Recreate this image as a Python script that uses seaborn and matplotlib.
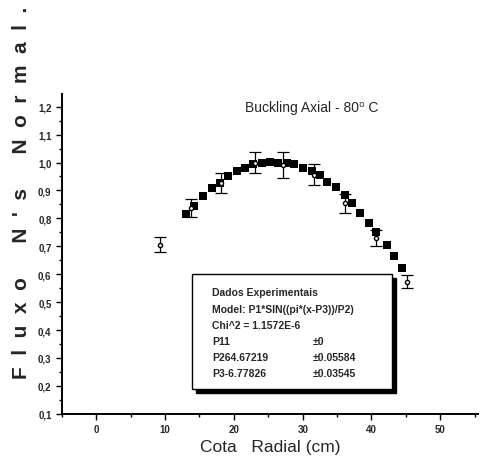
import matplotlib
matplotlib.use("Agg")
import matplotlib.pyplot as plt
import matplotlib.patches as mpatches
import seaborn as sns
import pandas as pd
import numpy as np

# fitted curve
fit_x = [13.0, 14.2, 15.5, 16.8, 18.0, 19.1, 20.4, 21.6, 22.8, 24.1, 25.2, 26.4, 27.7, 28.8,
         30.0, 31.3, 32.5, 33.6, 34.9, 36.1, 37.2, 38.4, 39.6, 40.6, 42.2, 43.3, 44.5]
fit_y = [0.814, 0.846, 0.879, 0.907, 0.925, 0.950, 0.968, 0.979, 0.993, 1.000, 1.003, 1.000, 1.000, 0.993,
         0.982, 0.968, 0.954, 0.932, 0.911, 0.882, 0.854, 0.818, 0.782, 0.750, 0.704, 0.664, 0.621]

# experimental points with error bars
exp_x = [9.3, 13.8, 18.1, 23.0, 27.2, 31.6, 36.1, 40.6, 45.2]
exp_y = [0.705, 0.837, 0.928, 1.000, 0.990, 0.957, 0.855, 0.730, 0.573]
exp_err = [0.027, 0.033, 0.036, 0.039, 0.046, 0.039, 0.034, 0.030, 0.023]

legend_lines = ["Dados Experimentais", "Model: P1*SIN((pi*(x-P3))/P2)", "Chi^2 = 1.1572E-6",
                "P1", "P2", "P3"]
param_vals = ["1", "64.67219", "-6.77826"]
param_errs = ["\u00b10", "\u00b10.05584", "\u00b10.03545"]

sns.set_style("ticks")
plt.rcParams['font.family'] = ['Liberation Sans', 'DejaVu Sans']

fig = plt.figure(figsize=(4.8, 4.64), dpi=100)
ax = fig.add_axes([0.129, 0.106, 0.867, 0.689])

df = pd.DataFrame({"x": fit_x, "y": fit_y})
sns.scatterplot(data=df, x="x", y="y", marker="s", color="black", s=34, edgecolor="black",
                linewidth=0, ax=ax, zorder=3)
ax.errorbar(exp_x, exp_y, yerr=exp_err, fmt="o", mfc="white", mec="black", ms=3,
            ecolor="black", elinewidth=0.9, capsize=4, capthick=0.9, zorder=4)

ax.set_xlim(-5, 55.5)
ax.set_ylim(0.1, 1.245)
ax.set_xticks(range(0, 60, 10))
ax.set_xticks(range(-5, 56, 5), minor=True)
yt = np.round(np.arange(0.1, 1.21, 0.1), 1)
ax.set_yticks(yt)
ax.set_yticklabels([f"{v:.1f}".replace(".", ",") for v in yt])
ax.set_yticks(np.round(np.arange(0.15, 1.21, 0.1), 2), minor=True)
for lab in ax.get_xticklabels() + ax.get_yticklabels():
    lab.set_fontweight("bold")
ax.tick_params(axis="both", which="major", labelsize=7, length=4, width=1, color="black")
ax.tick_params(axis="both", which="minor", length=2.5, width=1, color="black")
sns.despine(ax=ax)
for s in ["left", "bottom"]:
    ax.spines[s].set_linewidth(1.4)
    ax.spines[s].set_color("black")
ax.set_xlabel("")
ax.set_ylabel("")

ax.text(31.3, 1.2, "Buckling Axial - 80\u2070 C", ha="center", va="center", fontsize=10)

fig.text(0.5625, 0.035, "Cota   Radial (cm)", ha="center", va="center", fontsize=12.5)
fig.text(0.045, 0.585, "F  l  u  x  o      N  '  s      N  o  r  m  a  l  .", rotation=90, ha="center",
         va="center", fontsize=15, fontweight="bold")

# legend box with shadow
bx0, by0, bw, bh = 192 / 480, 1 - 390 / 464, 200 / 480, 115 / 464
shadow = mpatches.Rectangle((bx0 + 0.008, by0 - 0.008), bw, bh, transform=fig.transFigure,
                            facecolor="black", edgecolor="black", zorder=5)
box = mpatches.Rectangle((bx0, by0), bw, bh, transform=fig.transFigure,
                         facecolor="white", edgecolor="black", linewidth=1.0, zorder=6)
fig.patches.extend([shadow, box])
rows_y = [293, 310, 326, 342, 358, 374]
for i, txt in enumerate(legend_lines):
    if i >= 3:
        txt = txt + param_vals[i - 3]
        fig.text(313 / 480, 1 - rows_y[i] / 464, param_errs[i - 3], fontsize=7.5, fontweight="bold",
                 va="center", ha="left", zorder=7)
    fig.text(212 / 480, 1 - rows_y[i] / 464, txt, fontsize=7.5, fontweight="bold",
             va="center", ha="left", zorder=7)

fig.savefig("out.png", dpi=100)
